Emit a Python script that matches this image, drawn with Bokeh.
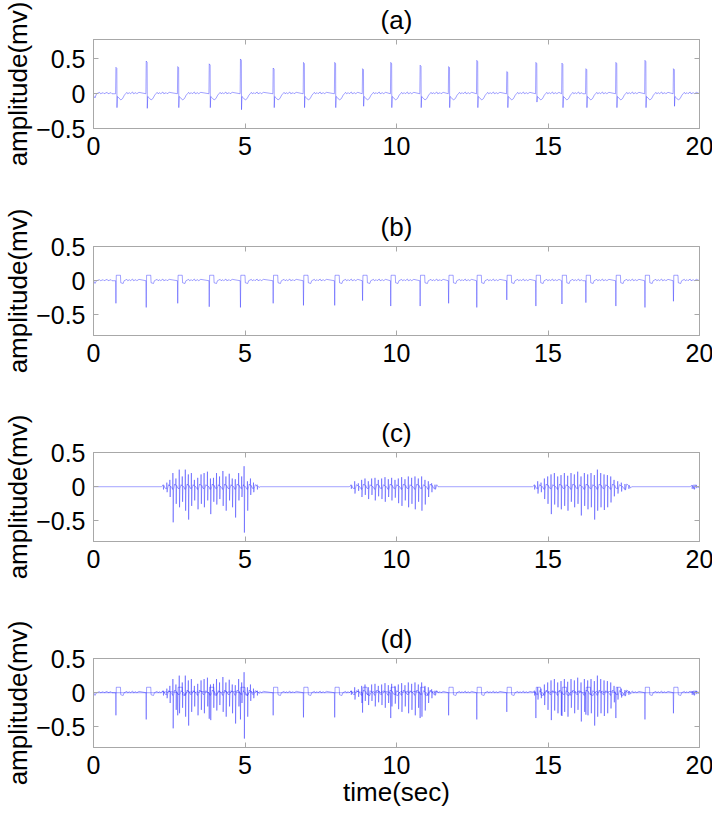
import numpy as np
from bokeh.plotting import figure
from bokeh.layouts import column
from bokeh.models import Range1d, FixedTicker, LinearAxis, CustomJSTickFormatter
from bokeh.embed import file_html
from bokeh.resources import INLINE

# ---------------- data ----------------
beat_times = [0.74, 1.74, 2.78, 3.82, 4.85, 5.93, 6.93, 7.96, 8.88, 9.81,
              10.78, 11.72, 12.65, 13.64, 14.60, 15.46, 16.25, 17.24, 18.20, 19.14]
a_peaks = [0.38, 0.47, 0.39, 0.43, 0.50, 0.37, 0.45, 0.45, 0.36, 0.45,
           0.41, 0.39, 0.48, 0.32, 0.45, 0.44, 0.36, 0.45, 0.48, 0.36]
a_troughs = [-0.20, -0.21, -0.20, -0.20, -0.23, -0.20, -0.20, -0.20, -0.18, -0.20,
             -0.20, -0.20, -0.20, -0.20, -0.12, -0.20, -0.20, -0.20, -0.20, -0.18]
b_troughs = [-0.33, -0.39, -0.33, -0.38, -0.39, -0.33, -0.36, -0.36, -0.29, -0.37,
             -0.37, -0.33, -0.39, -0.28, -0.37, -0.34, -0.32, -0.37, -0.39, -0.30]

# wave shapes after each beat (offset in s, value in mv)
a_wave_dt = [0.05, 0.10, 0.16, 0.22, 0.28, 0.32]
a_wave_v = [-0.04, -0.06, -0.09, -0.07, -0.02, 0.0]
b_wave_dt = [0.012, 0.15, 0.16, 0.24, 0.27]
b_wave_v = [0.08, 0.08, -0.03, -0.04, 0.0]
ripple_dt = [0.36, 0.39, 0.45, 0.48, 0.55, 0.58, 0.66, 0.69, 0.76]
ripple_v = [0.02, 0.0, 0.015, 0.0, 0.025, 0.0, 0.015, 0.0, 0.02]
lead_t = [0.0, 0.05, 0.10, 0.20, 0.23, 0.32, 0.35, 0.45, 0.48, 0.58, 0.61]
a_lead_v = [-0.03, -0.06, 0.0, 0.02, 0.0, 0.015, 0.0, 0.02, 0.0, 0.015, 0.0]
b_lead_v = [0.0, -0.04, 0.0, 0.015, 0.0, 0.015, 0.0, 0.02, 0.0, 0.015, 0.0]

# noise bursts of panel (c): spike times, positive and negative excursions
burst1_t = [2.30, 2.42, 2.52, 2.62, 2.72, 2.83, 2.93, 3.03, 3.13, 3.23, 3.33, 3.44, 3.55, 3.65, 3.76, 3.86,
            3.96, 4.06, 4.16, 4.27, 4.37, 4.48, 4.58, 4.68, 4.79, 4.89, 4.97, 5.08, 5.18, 5.28, 5.40]
burst1_hi = [0.03, 0.06, 0.10, 0.20, 0.12, 0.25, 0.15, 0.25, 0.18, 0.20, 0.10, 0.13, 0.18, 0.20, 0.22, 0.12,
             0.13, 0.20, 0.15, 0.23, 0.15, 0.19, 0.12, 0.11, 0.20, 0.15, 0.30, 0.08, 0.12, 0.06, 0.03]
burst1_lo = [-0.04, -0.08, -0.15, -0.52, -0.25, -0.30, -0.22, -0.35, -0.48, -0.28, -0.20, -0.33, -0.25, -0.30,
             -0.20, -0.40, -0.22, -0.26, -0.18, -0.28, -0.35, -0.20, -0.30, -0.45, -0.20, -0.15, -0.67, -0.35,
             -0.12, -0.08, -0.04]
burst2_t = [8.50, 8.62, 8.74, 8.85, 8.96, 9.07, 9.18, 9.29, 9.40, 9.51, 9.62, 9.73, 9.84, 9.95, 10.06,
            10.17, 10.28, 10.39, 10.50, 10.61, 10.72, 10.83, 10.94, 11.05, 11.16, 11.27]
burst2_hi = [0.03, 0.08, 0.05, 0.10, 0.12, 0.08, 0.12, 0.13, 0.10, 0.12, 0.14, 0.11, 0.13, 0.10, 0.12,
             0.14, 0.11, 0.15, 0.13, 0.15, 0.12, 0.15, 0.10, 0.08, 0.05, 0.03]
burst2_lo = [-0.03, -0.10, -0.06, -0.15, -0.12, -0.18, -0.12, -0.20, -0.14, -0.18, -0.22, -0.15, -0.20,
             -0.16, -0.24, -0.28, -0.20, -0.30, -0.25, -0.33, -0.22, -0.35, -0.26, -0.15, -0.08, -0.04]
burst3_t = [14.55, 14.66, 14.77, 14.88, 14.99, 15.10, 15.21, 15.32, 15.43, 15.54, 15.65, 15.76, 15.87,
            15.98, 16.09, 16.20, 16.31, 16.42, 16.53, 16.63, 16.74, 16.85, 16.96, 17.07, 17.18, 17.30,
            17.42, 17.54, 17.66]
burst3_hi = [0.03, 0.08, 0.06, 0.12, 0.15, 0.18, 0.20, 0.15, 0.17, 0.20, 0.16, 0.20, 0.18, 0.22, 0.15,
             0.20, 0.18, 0.20, 0.17, 0.25, 0.20, 0.18, 0.17, 0.15, 0.10, 0.08, 0.06, 0.04, 0.02]
burst3_lo = [-0.04, -0.10, -0.08, -0.18, -0.25, -0.40, -0.26, -0.30, -0.33, -0.28, -0.35, -0.22, -0.30,
             -0.25, -0.42, -0.28, -0.33, -0.30, -0.48, -0.35, -0.30, -0.34, -0.30, -0.23, -0.14, -0.10,
             -0.07, -0.05, -0.03]
burst4_t = [19.75, 19.82, 19.90]
burst4_hi = [0.02, 0.03, 0.02]
burst4_lo = [-0.03, -0.04, -0.02]
# small level the trace settles at between two noise spikes
burst_mid = [0.02, -0.03, 0.01, -0.04]

titles = ["(a)", "(b)", "(c)", "(d)"]
x_ticks = [0, 5, 10, 15, 20]
y_ticks = [-0.5, 0, 0.5]

# ---------------- build signals ----------------
def ecg(kind):
    xs = list(lead_t)
    ys = list(a_lead_v if kind == "a" else b_lead_v)
    for i, t in enumerate(beat_times):
        nxt = beat_times[i + 1] if i + 1 < len(beat_times) else 20.0
        if kind == "a":
            P, S = a_peaks[i], a_troughs[i]
            pts = [(t - 0.01, 0.0), (t, P), (t + 0.03, 0.96 * P), (t + 0.035, S)]
            pts += [(t + d, v) for d, v in zip(a_wave_dt, a_wave_v)]
        else:
            B = b_troughs[i]
            pts = [(t - 0.01, 0.0), (t, B)]
            pts += [(t + d, v) for d, v in zip(b_wave_dt, b_wave_v)]
        pts += [(t + d, v) for d, v in zip(ripple_dt, ripple_v) if t + d < nxt - 0.03]
        for x, y in pts:
            xs.append(x)
            ys.append(y)
    xs.append(20.0)
    ys.append(0.0)
    return xs, ys


def noise():
    groups = [(burst1_t, burst1_hi, burst1_lo), (burst2_t, burst2_hi, burst2_lo),
              (burst3_t, burst3_hi, burst3_lo), (burst4_t, burst4_hi, burst4_lo)]
    xs, ys = [0.0], [0.0]
    for ts, hi, lo in groups:
        xs.append(ts[0] - 0.06)
        ys.append(0.0)
        for k, (t, u, d) in enumerate(zip(ts, hi, lo)):
            m = burst_mid[k % len(burst_mid)]
            xs += [t - 0.006, t, t + 0.01, t + 0.022, t + 0.06]
            ys += [m, u, d, m, -m]
        xs.append(ts[-1] + 0.1)
        ys.append(0.0)
    xs.append(20.0)
    ys.append(0.0)
    return xs, ys


ax_x, ax_y = ecg("a")
bx_x, bx_y = ecg("b")
cx_x, cx_y = noise()

FONT = "Liberation Sans"
GRAY = "#a8a8a8"
LINE = "#2b2bff"
LW = 0.55
LA = 0.8


def mirror_axis(ticks, label=None):
    ax = LinearAxis(ticker=FixedTicker(ticks=ticks), formatter=CustomJSTickFormatter(code="return ''"),
                    major_label_text_font_size="1px", axis_line_color=GRAY,
                    major_tick_line_color=GRAY, major_tick_in=5, major_tick_out=0,
                    minor_tick_line_color=None, major_label_standoff=0, axis_label_standoff=0)
    if label:
        ax.axis_label = label
        ax.axis_label_text_font = FONT
        ax.axis_label_text_font_size = "26px"
        ax.axis_label_text_font_style = "normal"
        ax.axis_label_text_color = "black"
        ax.axis_label_standoff = 5
    return ax


def make_fig(title, y0, y1, bottom, xlabel=None):
    p = figure(frame_width=606, frame_height=89, x_range=Range1d(0, 20), y_range=Range1d(y0, y1),
               output_backend="svg", toolbar_location=None,
               min_border_left=91, min_border_right=14, min_border_top=39, min_border_bottom=bottom)
    p.xgrid.visible = False
    p.ygrid.visible = False
    p.outline_line_color = GRAY
    p.background_fill_color = "white"
    p.border_fill_color = "white"
    for ax in (p.xaxis[0], p.yaxis[0]):
        ax.axis_line_color = GRAY
        ax.major_tick_line_color = GRAY
        ax.major_tick_in = 5
        ax.major_tick_out = 0
        ax.minor_tick_line_color = None
        ax.major_label_text_font = FONT
        ax.major_label_text_font_size = "25px"
        ax.major_label_text_color = "black"
        ax.axis_label_text_font = FONT
        ax.axis_label_text_font_size = "26px"
        ax.axis_label_text_font_style = "normal"
        ax.axis_label_text_color = "black"
    p.xaxis[0].ticker = FixedTicker(ticks=x_ticks)
    p.yaxis[0].ticker = FixedTicker(ticks=y_ticks)
    p.xaxis[0].major_label_standoff = 8
    p.yaxis[0].major_label_standoff = 8
    p.yaxis[0].axis_label = "amplitude(mv)"
    p.yaxis[0].axis_label_standoff = 0
    if xlabel:
        p.xaxis[0].axis_label = xlabel
        p.xaxis[0].axis_label_standoff = 0
    p.add_layout(mirror_axis(x_ticks, title), "above")
    p.add_layout(mirror_axis(y_ticks), "right")
    return p


pa = make_fig(titles[0], -0.5, 0.78, 79)
pa.line(ax_x, ax_y, line_color=LINE, line_width=LW, line_alpha=LA)

pb = make_fig(titles[1], -0.8, 0.5, 78)
pb.line(bx_x, bx_y, line_color=LINE, line_width=LW, line_alpha=LA)

pc = make_fig(titles[2], -0.8, 0.5, 78)
pc.line(cx_x, cx_y, line_color=LINE, line_width=LW, line_alpha=LA)

pd_ = make_fig(titles[3], -0.8, 0.5, 68, xlabel="time(sec)")
pd_.line(bx_x, bx_y, line_color=LINE, line_width=LW, line_alpha=LA)
pd_.line(cx_x, cx_y, line_color=LINE, line_width=LW, line_alpha=LA)

layout = column(pa, pb, pc, pd_, spacing=0)
open("out.html", "w").write(file_html(layout, INLINE))
